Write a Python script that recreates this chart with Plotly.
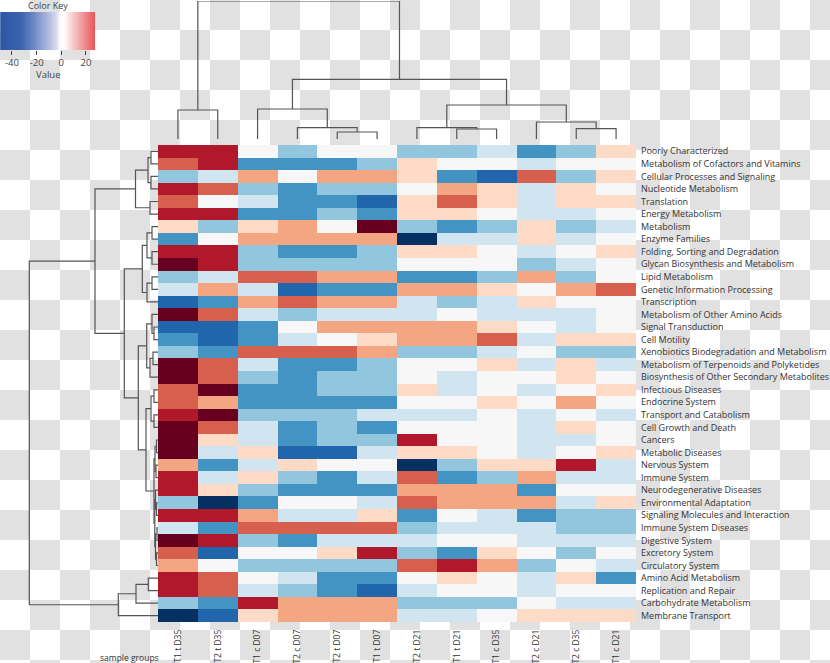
import plotly.graph_objects as go

W, H = 830, 663

col_labels = ["T1 t D35", "T2 t D35", "T1 c D07", "T2 c D07", "T2 t D07", "T1 t D07",
              "T2 t D21", "T1 t D21", "T1 c D35", "T2 c D21", "T2 c D35", "T1 c D21"]

row_labels = [
    "Poorly Characterized", "Metabolism of Cofactors and Vitamins", "Cellular Processes and Signaling",
    "Nucleotide Metabolism", "Translation", "Energy Metabolism", "Metabolism", "Enzyme Families",
    "Folding, Sorting and Degradation", "Glycan Biosynthesis and Metabolism", "Lipid Metabolism",
    "Genetic Information Processing", "Transcription", "Metabolism of Other Amino Acids",
    "Signal Transduction", "Cell Motility", "Xenobiotics Biodegradation and Metabolism",
    "Metabolism of Terpenoids and Polyketides", "Biosynthesis of Other Secondary Metabolites",
    "Infectious Diseases", "Endocrine System", "Transport and Catabolism", "Cell Growth and Death",
    "Cancers", "Metabolic Diseases", "Nervous System", "Immune System", "Neurodegenerative Diseases",
    "Environmental Adaptation", "Signaling Molecules and Interaction", "Immune System Diseases",
    "Digestive System", "Excretory System", "Circulatory System", "Amino Acid Metabolism",
    "Replication and Repair", "Carbohydrate Metabolism", "Membrane Transport"]

values = [
    [20, 20, 0, -19, 0, 0, -19, -19, -9, -29, -19, 4],
    [15, 20, -29, -29, -29, -19, 4, 0, 0, -9, 0, 0],
    [-19, -9, 10, 0, 10, 10, 4, -29, -38, 15, -19, 4],
    [20, 15, -19, -29, -19, -19, 0, 10, 4, -9, 4, 0],
    [15, 0, -9, -29, -29, -38, 4, 15, 4, -9, 4, 4],
    [20, 20, -29, -29, -19, -29, 4, 4, 0, -9, -9, 0],
    [4, -19, 4, 10, 0, 26, -19, -29, -19, 4, -19, -9],
    [-29, 0, 10, 10, 10, 10, -47, -9, -9, 4, -9, 0],
    [20, 20, -19, -29, -29, -19, 4, 4, 0, -9, 0, 4],
    [26, 20, -19, -19, -19, -19, 0, 0, 0, -19, -9, 0],
    [-19, -9, 15, 15, 10, 10, -29, -29, -19, 10, -19, 0],
    [-9, 10, -9, -38, -29, -29, 10, 10, 4, 0, 10, 15],
    [-38, -29, 10, 15, 10, 10, -9, -19, -9, 4, 0, 0],
    [26, 15, -9, -19, -9, -9, -9, 0, -9, -9, -9, 0],
    [-38, -38, -29, 0, 10, 10, 10, 10, 4, 0, -9, 0],
    [-29, -38, -29, -9, 0, 4, 10, 10, 15, -9, 4, 4],
    [-19, -29, 15, 15, 15, 10, -19, -19, -9, 0, -19, -19],
    [26, 15, -9, -29, -29, -19, 0, 0, 4, -9, 4, -9],
    [26, 15, -19, -29, -19, -19, 0, -9, 0, 0, 4, 0],
    [15, 26, -29, -29, -19, -19, 4, -9, 0, -9, 0, 4],
    [15, 10, -29, -29, -29, -29, 0, 0, 4, 0, 10, 0],
    [20, 26, -19, -19, -19, -9, -9, -9, 0, -9, 0, -9],
    [26, 15, -9, -29, -19, -29, 0, 0, 0, -9, 4, 0],
    [26, 4, -9, -29, -19, -19, 20, 0, 0, -9, -9, 0],
    [26, -9, 4, -38, -38, -9, 4, 4, 0, -9, 0, 4],
    [10, -29, -9, 4, 0, 0, -47, -19, 4, 4, 20, -9],
    [20, -9, 4, -19, -29, -9, 15, -29, -19, 10, -9, -9],
    [20, 4, -19, -29, -29, -29, 10, 10, 10, -29, 0, 0],
    [-19, -47, -29, 0, 0, -9, 15, 10, 10, 10, -9, 4],
    [20, 20, 10, -9, -9, 4, -29, 0, -9, -29, -19, -19],
    [-9, -29, 15, 15, 15, 15, -19, -9, -9, -9, -19, -19],
    [26, 20, -19, -29, -9, -9, -9, 0, 0, -9, -9, -9],
    [15, -38, 0, 0, 4, 20, -19, -29, 4, 0, -19, 0],
    [10, 0, -19, -19, -19, -19, 15, 20, 10, -19, 0, -9],
    [20, 15, 0, -9, -29, -29, 0, 4, 0, -9, 4, -29],
    [20, 15, -9, -19, -29, -38, -9, 0, 0, -9, 0, 0],
    [-19, -29, 20, 10, 10, 10, -19, -19, -19, 0, -9, -9],
    [-47, -38, 4, 10, 10, 10, -9, -9, 0, 4, 4, 4],
]

# column dendrogram: (left, right, merge height)
col_tree = ((0, 1, 29),
            ((2, (3, (4, 5, 7), 11.3), 30),
             ((6, (7, 8, 10), 11.3), (9, (10, 11, 10.3), 17), 34), 59.7), 138)

# row dendrogram
row_T1 = (((0, 1, 7), (2, 3, 7), 10), (4, 5, 8), 22.5)
row_T2a = (((6, 7, 6), (8, 9, 6), 11), ((10, 11, 6), 12, 11), 15.7)
row_U = ((13, (14, 15, 4), 6), ((16, 17, 5), 18, 8), 11.3)
row_A = ((19, 20, 4), (21, 22, 4), 7)
row_B = (((23, 24, 1.5), (25, 26, 2), 3),
         ((27, (28, 29, 1.5), 2.5), ((30, 31, 1), (32, 33, 1.5), 2.5), 3.2), 4)
row_tree = (((row_T1, (row_T2a, (row_U, (row_A, row_B, 12), 19.7), 33.7), 63)),
            (((34, 35, 9.7), 36, 22), 37, 39.7), 128.7)

key_ticks = [-40, -20, 0, 20]
key_ticktext = ["-40", "-20", "0", "20"]

FONT = "Open Sans"
TXT = "#333333"
LINE = "#555555"


def dendro(node):
    if isinstance(node, int):
        return float(node), 0.0, [], []
    a, b, h = node
    ca, ha, pa, qa = dendro(a)
    cb, hb, pb, qb = dendro(b)
    pos = pa + pb + [ca, ca, cb, cb, None]
    hts = qa + qb + [ha, h, h, hb, None]
    return (ca + cb) / 2, h, pos, hts


# stepped RdBu colorscale
rdbu = ["#053061", "#2166ac", "#4393c3", "#92c5de", "#d1e5f0", "#f7f7f7",
        "#fddbc7", "#f4a582", "#d6604d", "#b2182b", "#67001f"]
bounds = [-50, -42, -33, -24, -14, -4, 2, 7, 12.5, 17.5, 23, 30]
zmin, zmax = bounds[0], bounds[-1]
cs = []
for k, c in enumerate(rdbu):
    cs.append([(bounds[k] - zmin) / (zmax - zmin), c])
    cs.append([(bounds[k + 1] - zmin) / (zmax - zmin), c])

fig = go.Figure()

# checkerboard background
nx, ny = 28, 23
fig.add_trace(go.Heatmap(
    x=[15 + 30 * j for j in range(nx)], y=[15 + 30 * i for i in range(ny)],
    z=[[(i + j) % 2 for j in range(nx)] for i in range(ny)],
    colorscale=[[0, "#ffffff"], [1, "#e1e1e1"]], showscale=False,
    hoverinfo="skip", xaxis="x", yaxis="y"))

# main heatmap
fig.add_trace(go.Heatmap(
    x=list(range(len(col_labels))), y=list(range(len(row_labels))), z=values,
    colorscale=cs, zmin=zmin, zmax=zmax, showscale=False, xaxis="x2", yaxis="y2"))

# column dendrogram
_, _, cx, cy = dendro(col_tree)
fig.add_trace(go.Scatter(x=cx, y=cy, mode="lines", line=dict(color=LINE, width=1.2),
                         hoverinfo="skip", cliponaxis=False, xaxis="x3", yaxis="y3"))

# row dendrogram
_, _, ry, rx = dendro(row_tree)
fig.add_trace(go.Scatter(x=rx, y=ry, mode="lines", line=dict(color=LINE, width=1.2),
                         hoverinfo="skip", cliponaxis=False, xaxis="x4", yaxis="y4"))

# color key
key_x = list(range(-49, 28))
key_cs = [[0.0, "#2c56a6"], [0.22, "#3a62ad"], [0.35, "#6a85c2"], [0.5, "#a9b5db"],
          [0.6, "#d9ddef"], [0.645, "#ffffff"], [0.68, "#ffffff"], [0.76, "#f8d0d1"],
          [0.87, "#f19a9c"], [1.0, "#e8555b"]]
fig.add_trace(go.Heatmap(x=key_x, y=[0], z=[key_x], colorscale=key_cs, zmin=-50, zmax=27,
                         showscale=False, hoverinfo="skip", xaxis="x5", yaxis="y5"))

hm_x = [158 / W, 636 / W]
hm_y = [(H - 622) / H, (H - 145) / H]
hidden = dict(visible=False, showgrid=False, zeroline=False, fixedrange=True, automargin=False)

fig.update_layout(
    width=W, height=H, autosize=False,
    margin=dict(l=0, r=0, t=0, b=0, pad=0, autoexpand=False),
    paper_bgcolor="white", plot_bgcolor="rgba(0,0,0,0)",
    showlegend=False,
    font=dict(family=FONT, color=TXT, size=9),
    xaxis=dict(domain=[0, 1], range=[0, W], **hidden),
    yaxis=dict(domain=[0, 1], range=[H, 0], **hidden),
    xaxis2=dict(domain=hm_x, range=[-0.5, 11.5], anchor="y2", tickmode="array",
                tickvals=list(range(len(col_labels))), ticktext=col_labels, tickangle=-90,
                showgrid=False, zeroline=False, showline=False, ticks="", automargin=False,
                ticklabelstandoff=5, tickfont=dict(size=8.5, color=TXT, family=FONT)),
    yaxis2=dict(domain=hm_y, range=[37.5, -0.5], anchor="x2", side="right", tickmode="array",
                tickvals=list(range(len(row_labels))), ticktext=row_labels,
                showgrid=False, zeroline=False, showline=False, ticks="", automargin=False,
                ticklabelstandoff=4, tickfont=dict(size=9.0, color=TXT, family=FONT)),
    xaxis3=dict(domain=hm_x, range=[-0.5, 11.5], anchor="y3", **hidden),
    yaxis3=dict(domain=[(H - 139) / H, (H - 1) / H], range=[0, 138], anchor="x3", **hidden),
    xaxis4=dict(domain=[0, 158 / W], range=[158, 0], anchor="y4", **hidden),
    yaxis4=dict(domain=hm_y, range=[37.5, -0.5], anchor="x4", **hidden),
    xaxis5=dict(domain=[0, 95 / W], range=[-49.7, 27.3], anchor="y5", tickmode="array",
                tickvals=key_ticks, ticktext=key_ticktext, ticks="outside", ticklen=4,
                tickcolor="#444444", tickwidth=1, showgrid=False, zeroline=False,
                showline=False, automargin=False,
                tickfont=dict(size=9.5, color="#444444", family=FONT)),
    yaxis5=dict(domain=[(H - 50) / H, (H - 12) / H], range=[-0.5, 0.5], anchor="x5", **hidden),
    annotations=[
        dict(text="Color Key", x=48 / W, y=(H - 6) / H, xref="paper", yref="paper",
             showarrow=False, xanchor="center", yanchor="middle",
             font=dict(size=9, color="#444444", family=FONT)),
        dict(text="Value", x=48 / W, y=(H - 74) / H, xref="paper", yref="paper",
             showarrow=False, xanchor="center", yanchor="middle",
             font=dict(size=9.5, color="#444444", family=FONT)),
        dict(text="sample groups", x=161 / W, y=(H - 657) / H, xref="paper", yref="paper",
             showarrow=False, xanchor="right", yanchor="middle",
             font=dict(size=8.5, color=TXT, family=FONT)),
    ],
)

fig.write_html("out.html", config={"displayModeBar": False},
               post_script="document.body.style.margin='0';document.body.style.padding='0';")
